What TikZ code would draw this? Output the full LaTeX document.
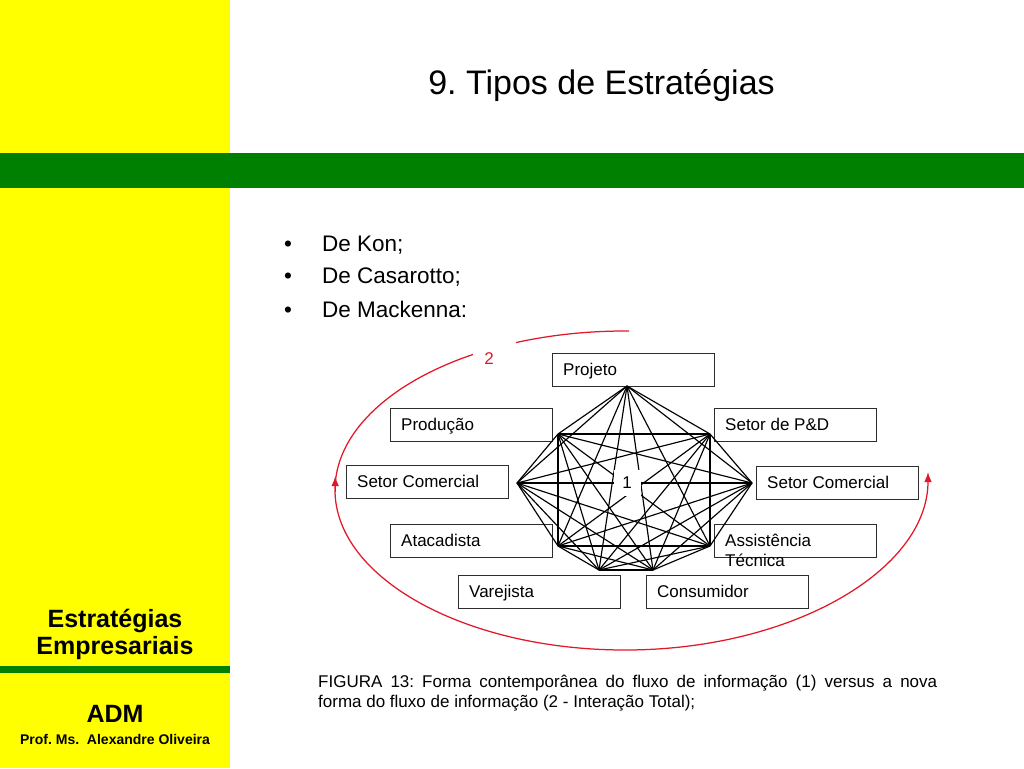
\documentclass[tikz,border=0pt]{standalone}
\usepackage{fontspec}
\setmainfont{Liberation Sans}
\usetikzlibrary{arrows.meta}
\definecolor{ppyellow}{RGB}{255,255,0}
\definecolor{ppgreen}{RGB}{0,128,0}
\definecolor{ppred}{RGB}{226,24,40}
\definecolor{boxgray}{RGB}{45,45,45}
\frenchspacing
\begin{document}
\begin{tikzpicture}[x=1pt,y=-1pt,
  box/.style={draw=boxgray, line width=1.3pt, fill=white, anchor=north west,
    minimum width=162pt, minimum height=33pt, inner sep=0pt},
  boxtext/.style={anchor=base west, inner sep=0pt, font=\fontsize{17}{20}\selectfont},
  edge/.style={line width=1.15pt, black},
  redcurve/.style={ppred, line width=1.25pt},
  redtip/.style={-{Latex[length=10pt,width=7.5pt]}},
  bullettext/.style={anchor=base west, inner sep=0pt, font=\fontsize{22.5}{27}\selectfont},
  sidetext/.style={anchor=base, inner sep=0pt, font=\bfseries\fontsize{25}{30}\selectfont},
]
\useasboundingbox (0,0) rectangle (1024,768);
\fill[white] (0,0) rectangle (1024,768);
\fill[ppyellow] (0,0) rectangle (230,768);
\fill[ppgreen] (0,153) rectangle (1024,188);
\fill[ppgreen] (0,666) rectangle (230,673);

% title
\node[anchor=base, inner sep=0pt, font=\fontsize{34}{40}\selectfont] (title) at (601.5,94) {9. Tipos de Estratégias};

% side panel
\node[sidetext] (side1) at (115,627) {Estratégias};
\node[sidetext] (side2) at (115,654) {Empresariais};
\node[sidetext] (adm) at (115,722) {ADM};
\node[anchor=base, inner sep=0pt, font=\bfseries\fontsize{14}{17}\selectfont] (prof) at (115,744) {Prof. Ms.\ \ Alexandre Oliveira};

% bullets
\node[anchor=base, inner sep=0pt, font=\fontsize{22.5}{27}\selectfont] (b1) at (288,251) {•};
\node[anchor=base, inner sep=0pt, font=\fontsize{22.5}{27}\selectfont] (b2) at (288,283) {•};
\node[anchor=base, inner sep=0pt, font=\fontsize{22.5}{27}\selectfont] (b3) at (288,317) {•};
\node[bullettext] (t1) at (322,251) {De Kon;};
\node[bullettext] (t2) at (322,283) {De Casarotto;};
\node[bullettext] (t3) at (322,317) {De Mackenna:};

% red curve
\draw[redcurve, redtip] (629,331) .. controls (465,330) and (335,402) .. (335,490)
  .. controls (335,578) and (465,650) .. (625,650)
  .. controls (792,650) and (928,570) .. (928,472);
\draw[redcurve, redtip] (335.2,492) -- (335.2,476);
\node[fill=white, inner sep=0pt, minimum width=43pt, minimum height=22pt] (gap2) at (494.5,350) {};
\node[anchor=base, inner sep=0pt, text=ppred, font=\fontsize{17}{20}\selectfont] (lab2) at (489,364) {2};

% boxes
\node[box] (proj) at (552,353) {};
\node[box] (prod) at (390,408) {};
\node[box] (pd) at (714,408) {};
\node[box] (scl) at (346,465) {};
\node[box] (scr) at (756,466) {};
\node[box] (atac) at (390,524) {};
\node[box] (assist) at (714,524) {};
\node[box] (varej) at (458,575) {};
\node[box] (cons) at (646,575) {};

\node[boxtext] (projT) at ([shift={(11,22)}]proj.north west) {Projeto};
\node[boxtext] (prodT) at ([shift={(11,22)}]prod.north west) {Produção};
\node[boxtext] (pdT) at ([shift={(11,22)}]pd.north west) {Setor de P\&D};
\node[boxtext] (sclT) at ([shift={(11,22)}]scl.north west) {Setor Comercial};
\node[boxtext] (scrT) at ([shift={(11,22)}]scr.north west) {Setor Comercial};
\node[boxtext] (atacT) at ([shift={(11,22)}]atac.north west) {Atacadista};
\node[boxtext] (assistT) at ([shift={(11,22)}]assist.north west) {\begin{tabular}[t]{@{}l@{}}Assistência\\Técnica\end{tabular}};
\node[boxtext] (varejT) at ([shift={(11,22)}]varej.north west) {Varejista};
\node[boxtext] (consT) at ([shift={(11,22)}]cons.north west) {Consumidor};

% graph vertices
\coordinate (v1) at (627,386);
\coordinate (v2) at (710,434);
\coordinate (v3) at (752,483);
\coordinate (v4) at (710,546);
\coordinate (v5) at (653,570);
\coordinate (v6) at (599,570);
\coordinate (v7) at (558,546);
\coordinate (v8) at (517,483);
\coordinate (v9) at (558,434);

\foreach \i in {1,...,8} {
  \pgfmathtruncatemacro\nxt{\i+1}
  \foreach \k in {\nxt,...,9} {
    \draw[edge] (v\i) -- (v\k);
  }
}

\node[fill=white, inner sep=0pt, minimum width=27pt, minimum height=26pt, font=\fontsize{17}{20}\selectfont] (lab1) at (627,483) {1};

% caption
\node[anchor=north west, inner sep=0pt, text width=619pt, align=justify, font=\fontsize{17}{20}\selectfont] (caption) at (318,675)
  {FIGURA 13: Forma contemporânea do fluxo de informação (1) versus a nova\linebreak forma do fluxo de informação (2 - Interação Total);};
\end{tikzpicture}
\end{document}
